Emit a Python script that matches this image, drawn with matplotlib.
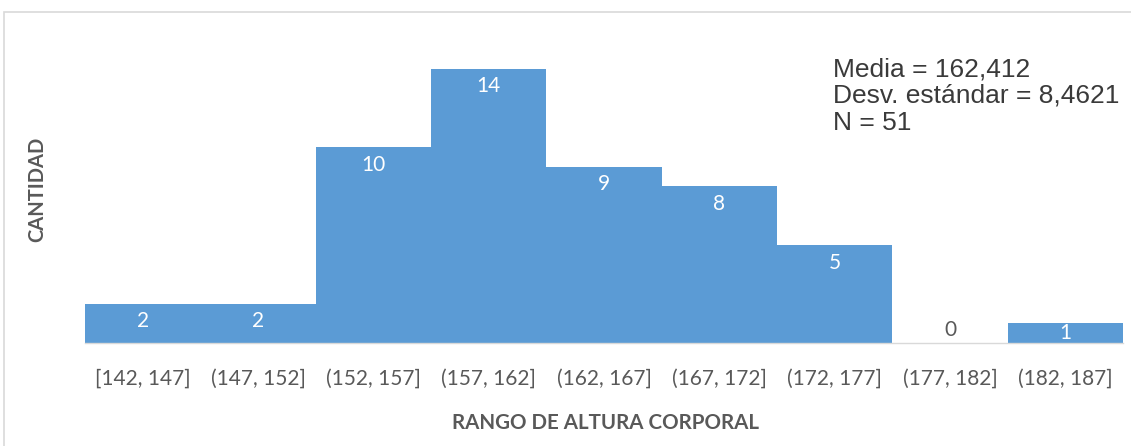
import matplotlib
matplotlib.use("Agg")
import matplotlib.pyplot as plt
from matplotlib.patches import Rectangle

# Height ranges (cm) and counts per range
rangos = ["[142, 147]", "(147, 152]", "(152, 157]", "(157, 162]", "(162, 167]",
          "(167, 172]", "(172, 177]", "(177, 182]", "(182, 187]"]
cantidad = [2, 2, 10, 14, 9, 8, 5, 0, 1]
resumen = ["Media = 162,412", "Desv. estándar = 8,4621", "N = 51"]

bar_color = "#5B9BD5"
text_gray = "#595959"

fig = plt.figure(figsize=(11.31, 4.46), dpi=100)
ax = fig.add_axes([85 / 1131, (446 - 343) / 446, (1123 - 85) / 1131, 0.703])

x = list(range(len(rangos)))
ax.bar(x, cantidad, width=1.0, color=bar_color, align="center", zorder=2)
ax.set_xlim(-0.5, len(rangos) - 0.5)
ax.set_ylim(0, 16)

for xi, v in zip(x, cantidad):
    if v == 0:
        ax.text(xi, 0.65, str(v), ha="center", va="center", color=text_gray,
                fontsize=15, family="Lato")
    else:
        yl = max(v - 0.9, v / 2)
        ax.text(xi, yl, str(v), ha="center", va="center", color="white",
                fontsize=15, family="Lato")

ax.set_xticks(x)
ax.set_xticklabels(rangos, fontsize=15, color=text_gray, family="Lato")
ax.tick_params(axis="x", length=0, pad=18.5)
ax.set_yticks([])
for s in ["top", "right", "left"]:
    ax.spines[s].set_visible(False)
ax.spines["bottom"].set_color("#D9D9D9")
ax.spines["bottom"].set_linewidth(1.0)

fig.text(37 / 1131, 1 - 189 / 446, "CANTIDAD", rotation=90, ha="center", va="center",
         fontsize=14.5, fontweight="bold", color=text_gray, family="Lato")
fig.text(606 / 1131, 1 - 423 / 446, "RANGO DE ALTURA CORPORAL", ha="center", va="center",
         fontsize=14.8, fontweight="bold", color=text_gray, family="Lato")

for i, line in enumerate(resumen):
    fig.text(833 / 1131, 1 - (69 + 27 * i) / 446, line, ha="left", va="center",
             fontsize=19, color="#3A3A3A", family="Liberation Sans")

# Chart area frame
fig.add_artist(Rectangle((4 / 1131, -0.05), 1.2, 1 - 12 / 446 + 0.05,
                         transform=fig.transFigure, fill=False,
                         edgecolor="#D9D9D9", linewidth=1.2))

fig.savefig("out.png", dpi=100, facecolor="white")
